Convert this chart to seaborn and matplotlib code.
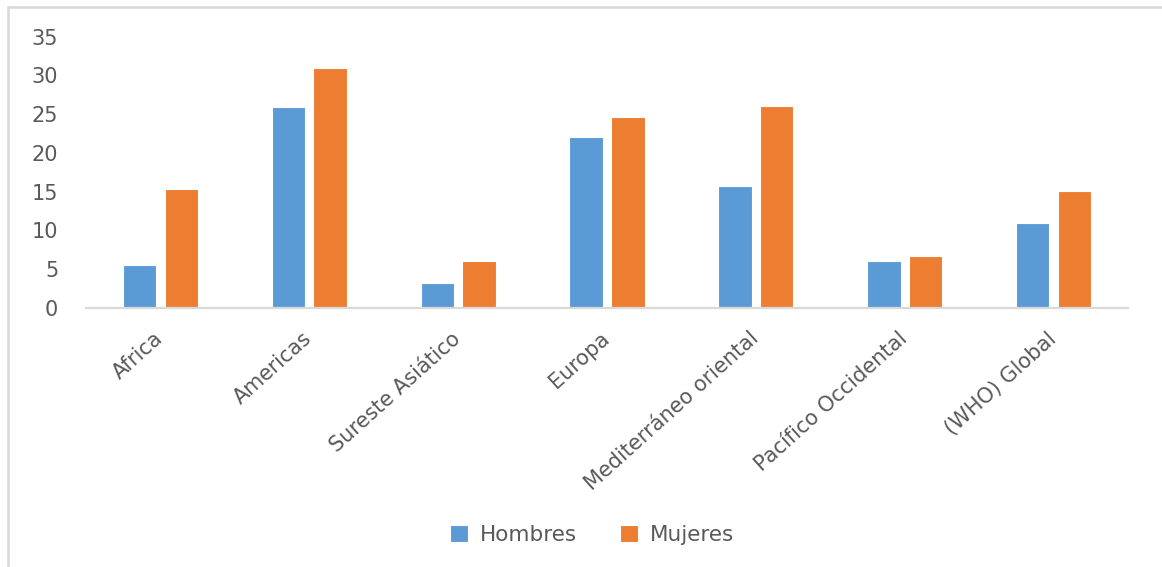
import matplotlib
matplotlib.use("Agg")
import matplotlib.pyplot as plt
from matplotlib.lines import Line2D
import seaborn as sns
import pandas as pd

regiones = ["Africa", "Americas", "Sureste Asiático", "Europa",
            "Mediterráneo oriental", "Pacífico Occidental", "(WHO) Global"]
hombres = [5.5, 25.9, 3.2, 22.1, 15.7, 6.0, 11.0]
mujeres = [15.4, 31.0, 6.0, 24.6, 26.1, 6.7, 15.1]
series = ["Hombres", "Mujeres"]
colores = ["#5B9BD5", "#ED7D31"]
y_ticks = [0, 5, 10, 15, 20, 25, 30, 35]

df = pd.DataFrame({
    "region": regiones * 2,
    "sexo": [series[0]] * len(regiones) + [series[1]] * len(regiones),
    "valor": hombres + mujeres,
})

sns.set_theme(style="white")
plt.rcParams["font.family"] = ["DejaVu Sans"]

W, H = 1162, 567
fig = plt.figure(figsize=(W / 100, H / 100), dpi=100)
ax = fig.add_axes([86 / W, 1 - 308 / H, (1128 - 86) / W, (308 - 36.7) / H])

sns.barplot(data=df, x="region", y="valor", hue="sexo", order=regiones,
            hue_order=series, palette=colores, width=0.56, gap=0.2,
            edgecolor="white", linewidth=0.8, saturation=1, ax=ax)

ax.set_ylim(0, 35)
ax.set_xlim(-0.5, len(regiones) - 0.5)
ax.set_yticks(y_ticks)
ax.set_xlabel("")
ax.set_ylabel("")
for side in ["top", "right", "left"]:
    ax.spines[side].set_visible(False)
ax.spines["bottom"].set_color("#d9d9d9")
ax.spines["bottom"].set_linewidth(1.6)
ax.tick_params(axis="y", length=0, pad=20, labelsize=15, labelcolor="#595959")
ax.tick_params(axis="x", length=0, pad=20, labelsize=15, labelcolor="#595959")
for lbl in ax.get_xticklabels():
    lbl.set_rotation(42)
    lbl.set_ha("right")
    lbl.set_va("center")
    lbl.set_rotation_mode("anchor")
for lbl in ax.get_yticklabels():
    lbl.set_ha("right")

leg = fig.legend(*ax.get_legend_handles_labels(), loc="center",
                 bbox_to_anchor=(592 / W, 1 - 535 / H), ncol=2, frameon=False,
                 fontsize=15.5, handlelength=0.85, handleheight=0.85,
                 columnspacing=2.0, handletextpad=0.55)
ax.get_legend().remove()
for t in leg.get_texts():
    t.set_color("#595959")

# chart area frame (top and left edges)
fig.add_artist(Line2D([8 / W, 1.0], [1 - 7 / H, 1 - 7 / H],
                      transform=fig.transFigure, color="#d9d9d9", linewidth=1.8))
fig.add_artist(Line2D([8 / W, 8 / W], [0.0, 1 - 7 / H],
                      transform=fig.transFigure, color="#d9d9d9", linewidth=1.8))

fig.savefig("out.png", dpi=100, facecolor="white")
